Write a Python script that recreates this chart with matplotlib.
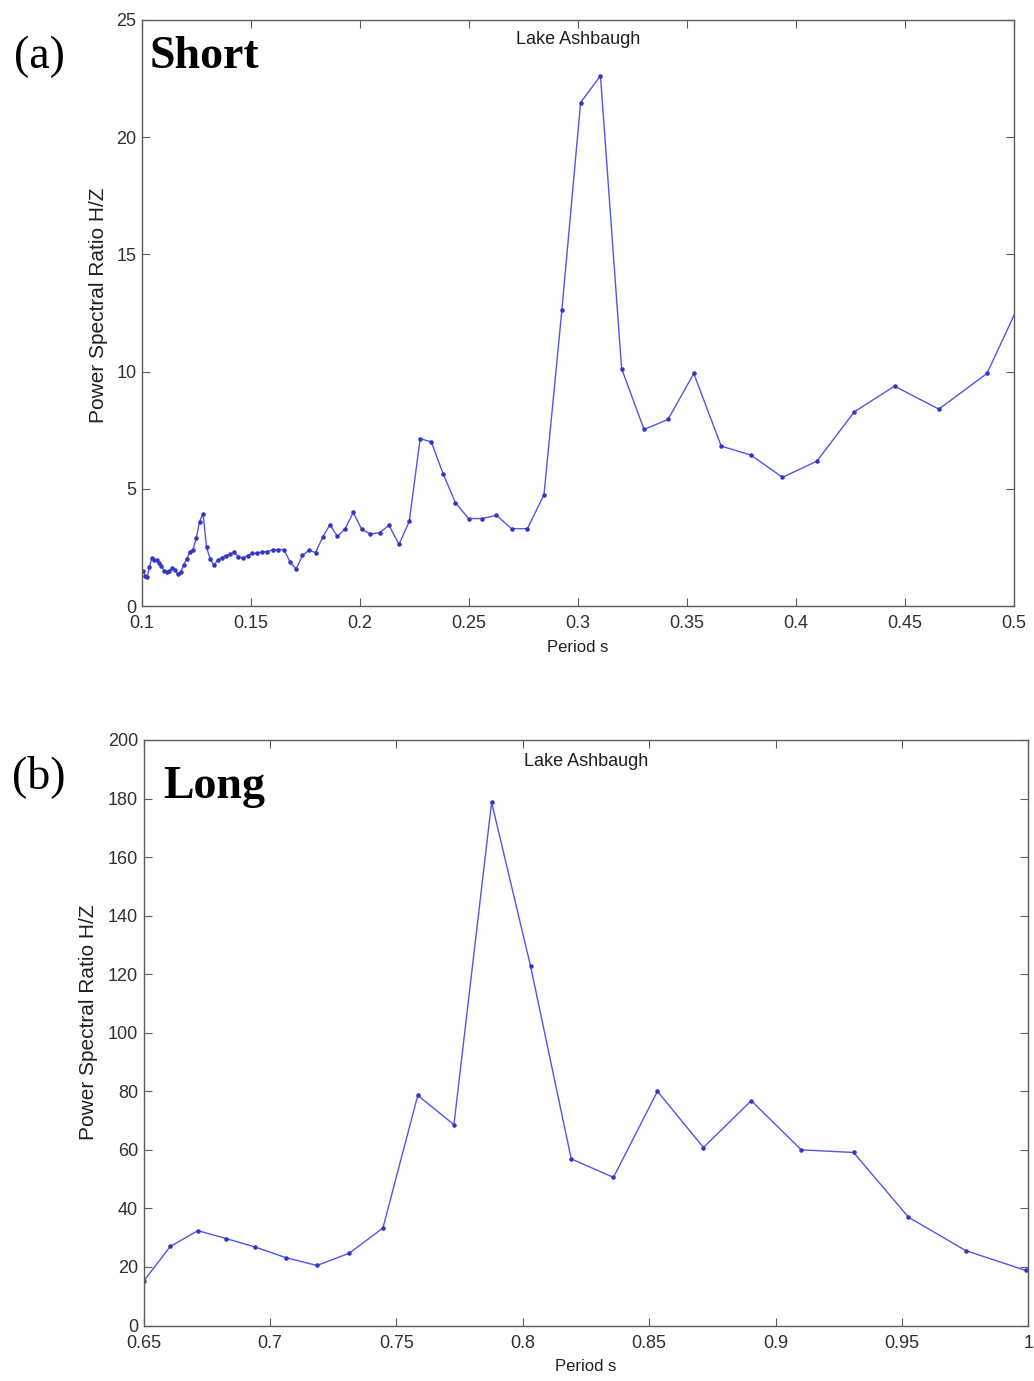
import matplotlib
matplotlib.use("Agg")
import matplotlib.pyplot as plt

# H/Z spectral ratio, short-period band
short_period = [0.1004, 0.1014, 0.1024, 0.1034, 0.1045, 0.1056, 0.1067, 0.1078, 0.1089, 0.1101,
                0.1113, 0.1125, 0.1138, 0.1151, 0.1164, 0.1177, 0.1191, 0.1205, 0.1219, 0.1234,
                0.1249, 0.1264, 0.1280, 0.1296, 0.1313, 0.1330, 0.1347, 0.1365, 0.1384, 0.1403,
                0.1422, 0.1442, 0.1463, 0.1484, 0.1506, 0.1528, 0.1552, 0.1575, 0.1600, 0.1625,
                0.1652, 0.1679, 0.1707, 0.1736, 0.1766, 0.1796, 0.1829, 0.1862, 0.1896, 0.1932,
                0.1969, 0.2008, 0.2048, 0.2090, 0.2133, 0.2179, 0.2226, 0.2276, 0.2327, 0.2381,
                0.2438, 0.2498, 0.2560, 0.2626, 0.2695, 0.2768, 0.2844, 0.2926, 0.3012, 0.3103,
                0.3200, 0.3303, 0.3413, 0.3531, 0.3657, 0.3793, 0.3938, 0.4096, 0.4267, 0.4452,
                0.4655, 0.4876, 0.5120]
short_ratio = [1.50, 1.30, 1.25, 1.65, 2.05, 1.95, 1.95, 1.85, 1.70, 1.50,
               1.45, 1.50, 1.60, 1.55, 1.35, 1.45, 1.75, 2.00, 2.30, 2.40,
               2.90, 3.60, 3.94, 2.50, 2.00, 1.75, 1.95, 2.05, 2.15, 2.20,
               2.30, 2.10, 2.05, 2.15, 2.25, 2.25, 2.32, 2.32, 2.40, 2.41,
               2.40, 1.88, 1.57, 2.16, 2.38, 2.28, 2.94, 3.47, 2.97, 3.29,
               3.99, 3.27, 3.07, 3.13, 3.44, 2.63, 3.61, 7.14, 7.00, 5.65,
               4.40, 3.73, 3.73, 3.87, 3.30, 3.30, 4.75, 12.62, 21.48, 22.62,
               10.13, 7.53, 7.96, 9.92, 6.82, 6.44, 5.49, 6.18, 8.28, 9.38,
               8.40, 9.92, 14.8]

# H/Z spectral ratio, long-period band
long_period = [0.6502, 0.6606, 0.6715, 0.6827, 0.6942, 0.7062, 0.7186, 0.7314, 0.7447, 0.7585,
               0.7728, 0.7877, 0.8031, 0.8192, 0.8359, 0.8533, 0.8715, 0.8904, 0.9102, 0.9309,
               0.9526, 0.9752, 0.9990, 1.0240]
long_ratio = [15.3, 27.0, 32.4, 29.7, 26.8, 23.2, 20.5, 24.7, 33.3, 78.6,
              68.6, 178.7, 122.8, 56.9, 50.6, 80.0, 60.8, 76.8, 60.0, 59.1,
              37.0, 25.6, 18.8, 17.0]

short_xticks = [0.1, 0.15, 0.2, 0.25, 0.3, 0.35, 0.4, 0.45, 0.5]
short_xlabels = ["0.1", "0.15", "0.2", "0.25", "0.3", "0.35", "0.4", "0.45", "0.5"]
short_yticks = [0, 5, 10, 15, 20, 25]
long_xticks = [0.65, 0.7, 0.75, 0.8, 0.85, 0.9, 0.95, 1.0]
long_xlabels = ["0.65", "0.7", "0.75", "0.8", "0.85", "0.9", "0.95", "1"]
long_yticks = [0, 20, 40, 60, 80, 100, 120, 140, 160, 180, 200]

SITE = "Lake Ashbaugh"
W, H = 1034, 1381

plt.rcParams["font.family"] = ["Liberation Sans", "DejaVu Sans"]

fig = plt.figure(figsize=(W / 100, H / 100), dpi=100)
fig.patch.set_facecolor("white")

LINE = "#5454e6"
MARK = "#3535c4"
AXC = "#5c5c5c"
TXT = "#303030"


def px_axes(left, top, right, bottom):
    return fig.add_axes([left / W, 1 - bottom / H, (right - left) / W, (bottom - top) / H])


def style(ax, xticks, xlabels, yticks, xlim, ylim):
    ax.set_xlim(*xlim)
    ax.set_ylim(*ylim)
    ax.set_xticks(xticks)
    ax.set_xticklabels(xlabels)
    ax.set_yticks(yticks)
    ax.set_yticklabels([str(v) for v in yticks])
    ax.tick_params(direction="in", top=True, right=True, length=5.5, width=0.8,
                   color=AXC, labelcolor=TXT, labelsize=13)
    ax.tick_params(axis="x", pad=6.5)
    ax.tick_params(axis="y", pad=4)
    for s in ax.spines.values():
        s.set_color(AXC)
        s.set_linewidth(1.0)


# (a) short-period panel
ax1 = px_axes(142, 20, 1014, 606)
ax1.plot(short_period, short_ratio, color=LINE, lw=1.0, marker=".", ms=4.5,
         mfc=MARK, mec=MARK)
style(ax1, short_xticks, short_xlabels, short_yticks, (0.1, 0.5), (0, 25))
ax1.text(0.5, 0.967, SITE, transform=ax1.transAxes, ha="center", va="center",
         fontsize=13, color="#202020")
ax1.set_xlabel("Period s", fontsize=12, color="#202020")
ax1.xaxis.set_label_coords(0.5, -0.058)
ax1.set_ylabel("Power Spectral Ratio H/Z", fontsize=15, color="#202020")
ax1.yaxis.set_label_coords(-0.039, 0.514)

# (b) long-period panel
ax2 = px_axes(143.5, 740, 1028.3, 1325.5)
ax2.plot(long_period, long_ratio, color=LINE, lw=1.0, marker=".", ms=4.5,
         mfc=MARK, mec=MARK)
style(ax2, long_xticks, long_xlabels, long_yticks, (0.65, 1.0), (0, 200))
ax2.text(0.5, 0.964, SITE, transform=ax2.transAxes, ha="center", va="center",
         fontsize=13, color="#202020")
ax2.set_xlabel("Period s", fontsize=12, color="#202020")
ax2.xaxis.set_label_coords(0.5, -0.058)
ax2.set_ylabel("Power Spectral Ratio H/Z", fontsize=15, color="#202020")
ax2.yaxis.set_label_coords(-0.051, 0.518)

# panel tags
serif = ["Liberation Serif", "DejaVu Serif"]
fig.text(14 / W, 1 - 68 / H, "(a)", fontsize=33, family=serif, va="baseline", ha="left")
fig.text(150 / W, 1 - 68 / H, "Short", fontsize=33, family=serif, weight="bold",
         va="baseline", ha="left")
fig.text(12 / W, 1 - 788 / H, "(b)", fontsize=33, family=serif, va="baseline", ha="left")
fig.text(163 / W, 1 - 798 / H, "Long", fontsize=33, family=serif, weight="bold",
         va="baseline", ha="left")

fig.savefig("out.png", dpi=100, facecolor="white")
